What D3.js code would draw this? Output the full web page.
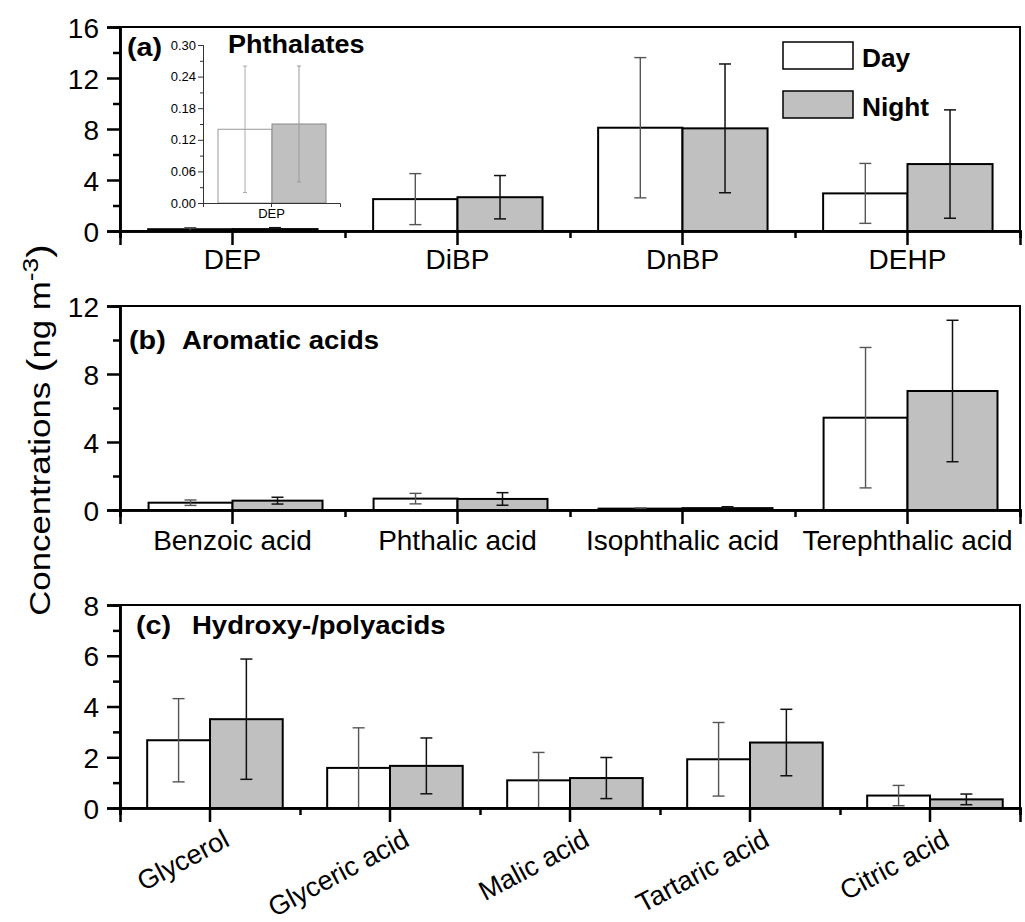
<!DOCTYPE html>
<html>
<head>
<meta charset="utf-8">
<script src="https://cdn.jsdelivr.net/npm/d3@7"></script>
<style>
  body { margin: 0; background: #fff; }
  svg text { font-family: "Liberation Sans", Arial, sans-serif; fill: #000; }
</style>
</head>
<body>
<svg id="chart" width="1025" height="922"></svg>
<script>
// panel (a) phthalates
var phthCats = ["DEP", "DiBP", "DnBP", "DEHP"];
var phthDay = [0.14, 2.5, 8.1, 2.95];
var phthDayErr = [0.12, 2.0, 5.5, 2.35];
var phthNight = [0.15, 2.65, 8.05, 5.25];
var phthNightErr = [0.11, 1.7, 5.05, 4.25];

// panel (b) aromatic acids
var aroCats = ["Benzoic acid", "Phthalic acid", "Isophthalic acid", "Terephthalic acid"];
var aroDay = [0.43, 0.67, 0.08, 5.43];
var aroDayErr = [0.16, 0.31, 0.04, 4.13];
var aroNight = [0.55, 0.65, 0.11, 7.0];
var aroNightErr = [0.2, 0.37, 0.08, 4.16];

// panel (c) hydroxy-/polyacids
var hydCats = ["Glycerol", "Glyceric acid", "Malic acid", "Tartaric acid", "Citric acid"];
var hydDay = [2.67, 1.58, 1.09, 1.92, 0.49];
var hydDayErr = [1.64, 1.58, 1.1, 1.45, 0.4];
var hydNight = [3.5, 1.66, 1.18, 2.58, 0.34];
var hydNightErr = [2.37, 1.1, 0.81, 1.31, 0.21];

// inset tick labels
var insetTicks = [0, 0.06, 0.12, 0.18, 0.24, 0.30];

var svg = d3.select("#chart");
var X0 = 120, X1 = 1020;
var nightFill = "#c0c0c0";

// bold labels in the original are drawn a bit wider than normal
function wideText(x, y, size, sx, txt) {
    return svg.append("text")
        .attr("transform", "translate(" + x + "," + y + ") scale(" + sx + ",1)")
        .attr("font-size", size).attr("font-weight", "bold").text(txt);
}

function drawPanel(opt) {
    var n = opt.cats.length;
    var x = d3.scaleBand().domain(opt.cats).range([X0, X1]).padding(0);
    var xb = d3.scaleLinear().domain([0, n]).range([X0, X1]);
    var y = d3.scaleLinear().domain([0, opt.ymax]).range([opt.y1, opt.y0]);
    var bw = x.bandwidth();
    var g = svg.append("g");

    // bars
    opt.cats.forEach(function(c, i) {
        var cx = x(c) + bw / 2;
        var dw = bw * opt.dayFrac, nw = bw * opt.nightFrac;
        g.append("rect")
            .attr("x", cx - dw).attr("y", y(opt.day[i]))
            .attr("width", dw).attr("height", y(0) - y(opt.day[i]))
            .attr("fill", "#fff").attr("stroke", "#000").attr("stroke-width", 2);
        g.append("rect")
            .attr("x", cx).attr("y", y(opt.night[i]))
            .attr("width", nw).attr("height", y(0) - y(opt.night[i]))
            .attr("fill", nightFill).attr("stroke", "#000").attr("stroke-width", 2);
        drawErr(g, cx - dw / 2, y, opt.day[i], opt.dayErr[i], "#555", 1.4, 6);
        drawErr(g, cx + nw / 2, y, opt.night[i], opt.nightErr[i], "#111", 1.5, 6);
    });

    // frame
    g.append("rect")
        .attr("x", X0).attr("y", opt.y0)
        .attr("width", X1 - X0).attr("height", opt.y1 - opt.y0)
        .attr("fill", "none").attr("stroke", "#000").attr("stroke-width", 2);

    // y axis
    var yAxis = d3.axisLeft(y).tickValues(opt.yticks).tickSize(13).tickPadding(8).tickFormat(d3.format("d"));
    var ya = g.append("g").attr("transform", "translate(" + X0 + ",0)").call(yAxis);
    var yMinor = d3.axisLeft(y).tickValues(opt.yminor).tickSize(7).tickFormat("");
    var ym = g.append("g").attr("transform", "translate(" + X0 + ",0)").call(yMinor);

    // x axis
    var xAxis = d3.axisBottom(x).tickSize(14).tickPadding(opt.labelPad);
    var xa = g.append("g").attr("transform", "translate(0," + opt.y1 + ")").call(xAxis);
    var xMinor = d3.axisBottom(xb).tickValues(d3.range(n + 1)).tickSize(7).tickFormat("");
    var xm = g.append("g").attr("transform", "translate(0," + opt.y1 + ")").call(xMinor);

    [ya, ym, xa, xm].forEach(function(a) {
        a.attr("font-family", null);
        a.select(".domain").attr("stroke", "#000").attr("stroke-width", 2.5);
        a.selectAll(".tick line").attr("stroke", "#000").attr("stroke-width", 2.5);
    });
    ya.selectAll(".tick text").attr("font-size", 28).attr("dy", "0.36em");
    xa.selectAll(".tick text").attr("font-size", 28);
    if (opt.rotate) {
        xa.selectAll(".tick text")
            .attr("font-size", 27)
            .attr("text-anchor", "end")
            .attr("x", 0).attr("y", 0).attr("dy", 0)
            .attr("transform", "translate(21,37) rotate(-28)");
    }

    // titles
    wideText(opt.tag[0], opt.tag[1], 25, 1.15, opt.tagText);
    wideText(opt.title[0], opt.title[1], opt.titleSize, opt.titleScale, opt.titleText);
    return g;
}

function drawErr(g, cx, y, v, e, color, w, cap) {
    g.append("line").attr("x1", cx).attr("x2", cx)
        .attr("y1", y(v + e)).attr("y2", y(Math.max(v - e, 0)))
        .attr("stroke", color).attr("stroke-width", w);
    [v + e, Math.max(v - e, 0)].forEach(function(t) {
        g.append("line").attr("x1", cx - cap).attr("x2", cx + cap)
            .attr("y1", y(t)).attr("y2", y(t))
            .attr("stroke", color).attr("stroke-width", w);
    });
}

drawPanel({
    cats: phthCats, day: phthDay, dayErr: phthDayErr, night: phthNight, nightErr: phthNightErr,
    ymax: 16, y0: 27, y1: 231, yticks: [0, 4, 8, 12, 16], yminor: [2, 6, 10, 14],
    dayFrac: 0.375, nightFrac: 0.378, labelPad: 4,
    tag: [127, 56], tagText: "(a)", title: [228, 53], titleText: "Phthalates", titleSize: 25, titleScale: 1.08
});

drawPanel({
    cats: aroCats, day: aroDay, dayErr: aroDayErr, night: aroNight, nightErr: aroNightErr,
    ymax: 12, y0: 306, y1: 510, yticks: [0, 4, 8, 12], yminor: [2, 6, 10],
    dayFrac: 0.373, nightFrac: 0.4, labelPad: 6,
    tag: [129, 349], tagText: "(b)", title: [182, 349], titleText: "Aromatic acids", titleSize: 25, titleScale: 1.1
});

drawPanel({
    cats: hydCats, day: hydDay, dayErr: hydDayErr, night: hydNight, nightErr: hydNightErr,
    ymax: 8, y0: 605, y1: 808, yticks: [0, 2, 4, 6, 8], yminor: [1, 3, 5, 7],
    dayFrac: 0.349, nightFrac: 0.404, rotate: true, labelPad: 6,
    tag: [136, 634], tagText: "(c)", title: [192, 634], titleText: "Hydroxy-/polyacids", titleSize: 25, titleScale: 1.1
});

// inset for DEP
var ix = d3.scaleBand().domain(["DEP"]).range([203, 340]);
var iy = d3.scaleLinear().domain([0, 0.30]).range([203, 45]);
var inset = svg.append("g");
var icx = 272, ibw = 54;
inset.append("rect").attr("x", icx - ibw).attr("y", iy(phthDay[0]))
    .attr("width", ibw).attr("height", iy(0) - iy(phthDay[0]))
    .attr("fill", "#fff").attr("stroke", "#999").attr("stroke-width", 1);
inset.append("rect").attr("x", icx).attr("y", iy(phthNight[0]))
    .attr("width", ibw).attr("height", iy(0) - iy(phthNight[0]))
    .attr("fill", nightFill).attr("stroke", "#888").attr("stroke-width", 1);
drawErr(inset, icx - ibw / 2, iy, phthDay[0], phthDayErr[0], "#aaa", 1, 2);
drawErr(inset, icx + ibw / 2, iy, phthNight[0], phthNightErr[0], "#999", 1, 2);
var iya = inset.append("g").attr("transform", "translate(203,0)")
    .call(d3.axisLeft(iy).tickValues(insetTicks).tickSize(5).tickPadding(2).tickFormat(d3.format(".2f")));
var iym = inset.append("g").attr("transform", "translate(203,0)")
    .call(d3.axisLeft(iy).tickValues([0.03, 0.09, 0.15, 0.21, 0.27]).tickSize(3).tickFormat(""));
var ixa = inset.append("g").attr("transform", "translate(0,203)")
    .call(d3.axisBottom(ix).tickSize(4).tickPadding(2));
[iya, iym, ixa].forEach(function(a) {
    a.attr("font-family", null);
    a.select(".domain").attr("stroke", "#333").attr("stroke-width", 1);
    a.selectAll(".tick line").attr("stroke", "#333").attr("stroke-width", 1);
    a.selectAll(".tick text").attr("font-size", 13);
});

// legend
var legendItems = [["Day", "#fff"], ["Night", nightFill]];
var legend = svg.append("g").attr("transform", "translate(783,42)");
legendItems.forEach(function(d, i) {
    legend.append("rect").attr("x", 0).attr("y", i * 49)
        .attr("width", 70).attr("height", 27)
        .attr("fill", d[1]).attr("stroke", "#000").attr("stroke-width", 1.5);
    wideText(783 + 79, 42 + i * 49 + 25, 25, 1.05, d[0]);
});

// y label
var yl = svg.append("text")
    .attr("transform", "translate(50,430) rotate(-90) scale(1.2,1)")
    .attr("text-anchor", "middle")
    .attr("font-size", 29);
yl.append("tspan").text("Concentrations ");
yl.append("tspan").attr("font-size", 34).text("(");
yl.append("tspan").text("ng m");
yl.append("tspan").attr("font-size", 22).attr("dy", -12).text("-3");
yl.append("tspan").attr("font-size", 34).attr("dy", 12).text(")");
</script>
</body>
</html>
